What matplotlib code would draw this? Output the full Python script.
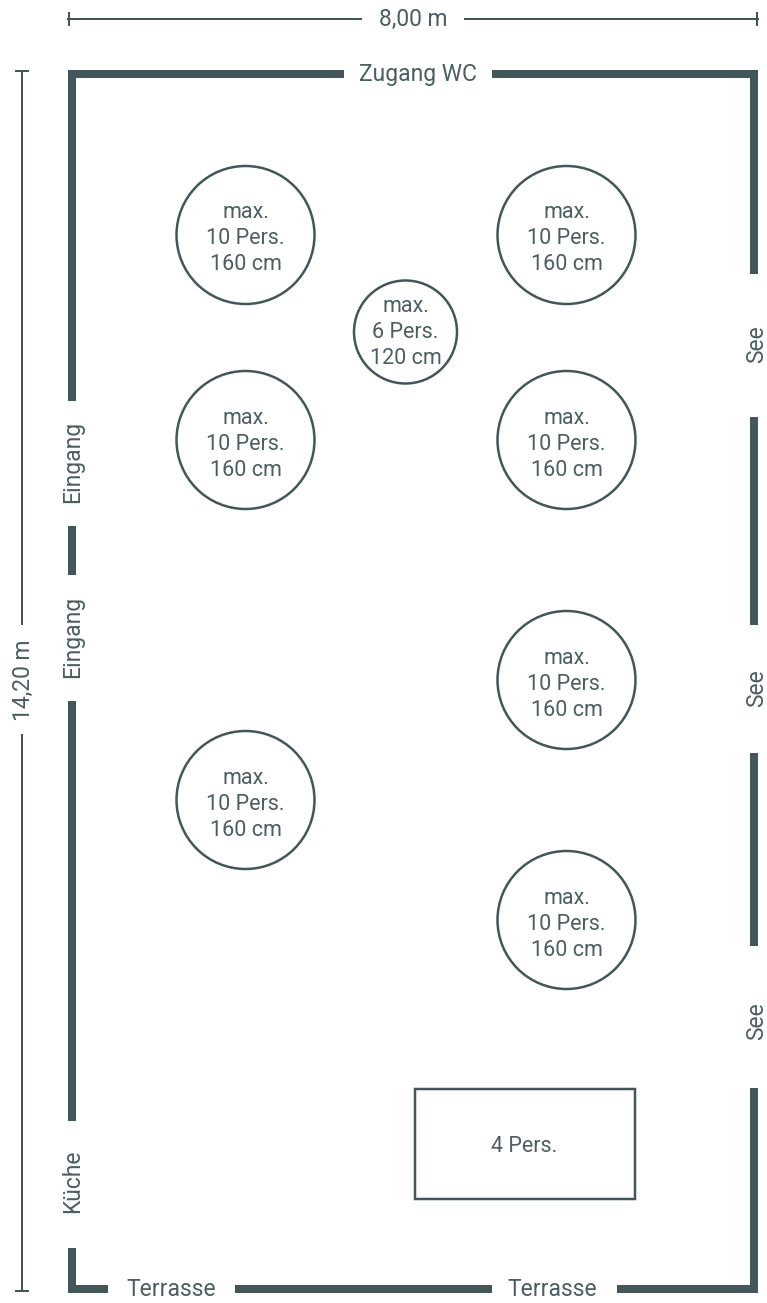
import matplotlib
matplotlib.use("Agg")
import matplotlib.pyplot as plt
from matplotlib.patches import Circle, Rectangle

W, H = 767, 1303
COL = "#43575b"
TXT = "#4b5e62"
WALL = 8

# (start, end) along each wall
wall_top = [(68, 344), (492, 758)]
wall_bottom = [(68, 108), (235, 492), (617, 758)]
wall_left = [(70, 401), (526, 575), (701, 1121), (1248, 1293)]
wall_right = [(70, 274), (417, 625), (753, 946), (1088, 1293)]

big_tables = [(245.5, 235), (566.5, 235), (245.5, 440), (566.5, 440),
              (566.5, 680), (245.5, 800), (566.5, 920)]
big_radius = 69
big_label = ["max.", "10 Pers.", "160 cm"]
small_table = (405.5, 332)
small_radius = 51.5
small_label = ["max.", "6 Pers.", "120 cm"]
rect_table = (415, 1089, 220, 110)

top_labels = [("8,00 m", 413, 19), ("Zugang WC", 418, 74),
              ("Terrasse", 171, 1290), ("Terrasse", 552, 1290)]
side_labels = [("14,20 m", 23, 680), ("Eingang", 73, 462), ("Eingang", 73, 637),
               ("Küche", 73, 1181), ("See", 757, 344), ("See", 757, 688), ("See", 757, 1021)]
rect_label = ("4 Pers.", 524, 1146)

plt.rcParams["font.family"] = ["Roboto", "DejaVu Sans"]
FS = 15.5
FS_OUT = 16.5

fig = plt.figure(figsize=(W / 100, H / 100), dpi=100)
ax = fig.add_axes([0, 0, 1, 1])
ax.set_xlim(0, W)
ax.set_ylim(H, 0)
ax.axis("off")

for a, b in wall_top:
    ax.add_patch(Rectangle((a, 70), b - a, WALL, fc=COL, ec="none"))
for a, b in wall_bottom:
    ax.add_patch(Rectangle((a, 1285), b - a, WALL, fc=COL, ec="none"))
for a, b in wall_left:
    ax.add_patch(Rectangle((68, a), WALL, b - a, fc=COL, ec="none"))
for a, b in wall_right:
    ax.add_patch(Rectangle((750, a), WALL, b - a, fc=COL, ec="none"))

# dimension lines, lw in points (72/100 per pixel)
lw = 2 * 0.72
ax.plot([68, 361], [19, 19], color=COL, lw=lw)
ax.plot([465, 758], [19, 19], color=COL, lw=lw)
ax.plot([68.5, 68.5], [13, 25], color=COL, lw=lw)
ax.plot([757, 757], [13, 25], color=COL, lw=lw)
ax.plot([22, 22], [71, 624], color=COL, lw=lw)
ax.plot([22, 22], [735, 1291], color=COL, lw=lw)
ax.plot([16, 28], [71, 71], color=COL, lw=lw)
ax.plot([16, 28], [1291, 1291], color=COL, lw=lw)

lw_t = 2.5 * 0.72
for x, y in big_tables:
    ax.add_patch(Circle((x, y), big_radius, fc="none", ec=COL, lw=lw_t))
    for i, t in enumerate(big_label):
        ax.text(x, y - 22 + i * 26, t, color=TXT, fontsize=FS, ha="center", va="center")

x, y = small_table
ax.add_patch(Circle((x, y), small_radius, fc="none", ec=COL, lw=lw_t))
for i, t in enumerate(small_label):
    ax.text(x, y - 26 + i * 26, t, color=TXT, fontsize=FS, ha="center", va="center")

ax.add_patch(Rectangle(rect_table[:2], rect_table[2], rect_table[3], fc="none", ec=COL, lw=lw_t))
ax.text(rect_label[1], rect_label[2], rect_label[0], color=TXT, fontsize=FS, ha="center", va="center")

for t, x, y in top_labels:
    ax.text(x, y, t, color=TXT, fontsize=FS_OUT, ha="center", va="center")
for t, x, y in side_labels:
    ax.text(x, y, t, color=TXT, fontsize=FS_OUT, rotation=90, ha="center", va="center")

fig.savefig("out.png", dpi=100)
